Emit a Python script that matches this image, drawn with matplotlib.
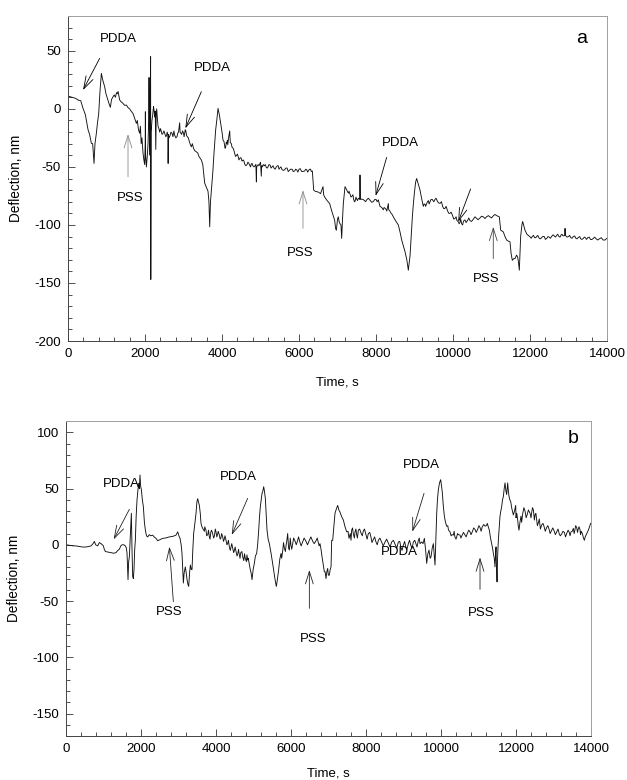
import matplotlib
matplotlib.use("Agg")
import matplotlib.pyplot as plt
from matplotlib.ticker import MultipleLocator

plt.rcParams['font.family'] = ['Liberation Sans', 'DejaVu Sans']
plt.rcParams['axes.unicode_minus'] = False

# ---------------- data: panel a (main trace) ----------------
a_time = [0, 100, 200, 260, 330, 390, 450, 520, 560, 606, 640, 675, 700, 736, 765, 797,
          830, 866, 900, 952, 985, 1022, 1060, 1100, 1130, 1169, 1200, 1230, 1260, 1281,
          1300, 1342, 1380, 1420, 1470, 1515, 1560, 1600, 1640, 1688, 1730, 1775, 1800,
          1830, 1861, 1880, 1900, 1920, 1948, 1970, 1991, 2005, 2009, 2015, 2035, 2060,
          2078, 2095, 2104, 2115, 2130, 2145, 2150, 2160, 2180, 2200, 2220, 2234, 2250,
          2265, 2280, 2290, 2303, 2320, 2338, 2360, 2381, 2420, 2468, 2520, 2560, 2597,
          2600, 2605, 2650, 2700, 2770, 2830, 2870, 2900, 2910, 2950, 3000, 3030, 3060,
          3100, 3150, 3203, 3260, 3333, 3400, 3463, 3500, 3550, 3600, 3636, 3660, 3680,
          3700, 3723, 3760, 3792, 3835, 3870, 3896, 3930, 3965, 4000, 4026, 4060, 4095,
          4120, 4139, 4170, 4199, 4215, 4242, 4290, 4329, 4380, 4420, 4459, 4520, 4550,
          4589, 4650, 4690, 4718, 4760, 4800, 4860, 4892, 4900, 4940, 4978, 5020, 5030,
          5070, 5100, 5150, 5195, 5250, 5300, 5350, 5411, 5460, 5500, 5560, 5628, 5690,
          5750, 5820, 5887, 5940, 6000, 6070, 6147, 6200, 6250, 6300, 6346, 6381, 6420,
          6494, 6560, 6623, 6640, 6667, 6730, 6796, 6850, 6926, 6950, 6970, 7000, 7021,
          7040, 7065, 7090, 7108, 7130, 7151, 7195, 7240, 7281, 7330, 7368, 7420, 7454,
          7500, 7541, 7575, 7584, 7595, 7627, 7700, 7757, 7850, 7930, 8000, 8060, 8103,
          8150, 8190, 8250, 8320, 8330, 8390, 8450, 8520, 8580, 8630, 8667, 8710, 8753,
          8800, 8840, 8860, 8883, 8910, 8944, 8970, 8996, 9030, 9056, 9100, 9143, 9190,
          9229, 9270, 9316, 9360, 9403, 9460, 9533, 9600, 9662, 9730, 9792, 9860, 9922,
          9990, 10052, 10100, 10138, 10180, 10225, 10270, 10311, 10380, 10441, 10530,
          10614, 10700, 10787, 10870, 10960, 11050, 11134, 11203, 11238, 11307, 11350,
          11394, 11440, 11480, 11510, 11541, 11580, 11610, 11650, 11679, 11700, 11723,
          11745, 11757, 11790, 11809, 11840, 11870, 11920, 11957, 12010, 12060, 12120,
          12173, 12240, 12300, 12370, 12433, 12500, 12560, 12630, 12693, 12750, 12800,
          12860, 12900, 12910, 12920, 13000, 13060, 13125, 13190, 13250, 13320, 13385,
          13440, 13500, 13570, 13645, 13720, 13800, 13900, 13991]
a_defl = [11, 10, 9, 7.6, 7, 0.4, -5, -18, -22, -29.7, -30, -47, -30, -21, -12, -4,
          15, 30.6, 25, 19, 13, 9, 5, 1.3, 8, 10.4, 12, 10, 14, 13,
          15, 7.6, 6, 5, 3, 3.3, 1, 0, -2, -4, -8, -12.5, -10,
          -18, -21, -15, -30, -25, -38, -44, -48, -30, -2.5, -40, -50, -40,
          -30, -10, 27, -20, -40, 45, -147, -20, -10, -5, 2, -1, -7,
          -2, -35, -5, 0, -8, -15, -17, -20, -19, -21, -22, -23, -22.6,
          -47, -22, -23, -21, -22.6, -24, -20, -12, -20, -22, -21, -21, -19,
          -24, -28, -32.7, -34, -37, -41, -44, -48, -64, -68, -71, -80, -101.6,
          -80, -70, -55, -38, -18, -8, 0.4, -5, -12.5, -20, -27, -30, -32.7,
          -30, -27, -25, -19, -29, -30, -34, -38.4, -40, -41, -42.7, -45, -44,
          -47.6, -48, -46.5, -48.5, -47.5, -49, -49, -63, -50, -48, -47.6, -58, -49,
          -48, -49, -50.5, -50, -48.5, -50, -51, -50, -49, -51, -52.5, -52.4, -51,
          -53, -52, -53.5, -52.5, -52, -54, -53.5, -52.5, -53, -52, -53.5, -70, -71,
          -71.6, -73, -67, -74, -76, -79, -81.6, -88, -96, -103, -104.6, -95, -93,
          -97, -99, -100, -111.6, -95, -81.5, -67, -70, -72.6, -74, -75.5, -78, -79.8,
          -78, -77, -78, -57, -78, -77.8, -79, -78.4, -79, -79.8, -78, -78.4, -84,
          -85, -87, -86, -81.6, -87, -90, -93, -97, -100, -107, -113, -118, -123,
          -130, -139, -133, -127, -112, -93, -82, -72.6, -63, -60, -65, -70, -78,
          -84, -82, -81.5, -79, -80, -78, -78, -80, -81.5, -84, -85.8, -88, -90,
          -92, -94.4, -96, -97.3, -98, -99, -97, -95.7, -96, -96.3, -95,
          -94.4, -94, -93, -93, -93, -92, -92, -93, -104.5, -106, -110,
          -113, -114, -114.5, -125, -130.5, -129, -129, -126, -127.6, -132, -139,
          -120, -110, -100, -97, -101, -104.6, -108, -109, -110.5, -110, -111,
          -110, -111.5, -111, -110, -111.6, -110.5, -110, -109.5, -109, -110, -109,
          -109.5, -109, -103, -109, -110, -111, -110, -111.5, -111, -112, -111.6,
          -111, -111, -112.5, -111.6, -112, -112, -113, -111.6]

# panel a: extra read-off points for the noisy stretches
a_time_noise = [2400, 2440, 2490, 2540, 2575, 2625, 2675, 2725, 2750, 2800, 2850, 2975,
                3015, 3045, 3080, 3125, 3180, 3230, 3290, 3370,
                4050, 4080, 4110, 4150, 4260, 4310, 4350, 4400, 4440, 4490, 4570, 4620,
                4670, 4740, 4780, 4830, 4880, 4960, 5000, 5050, 5125, 5175, 5220, 5275,
                5325, 5380, 5440, 5480, 5530, 5600, 5660, 5720, 5780, 5850, 5910, 5970,
                6030, 6100, 6175, 6225, 6275, 6320,
                7300, 7350, 7400, 7440, 7480, 7520, 7660, 7730, 7800, 7890, 7970, 8030,
                8210, 8280, 8360, 8420,
                9250, 9290, 9340, 9380, 9430, 9500, 9560, 9630, 9700, 9760, 9820, 9890,
                9950, 10020, 10080, 10160, 10200, 10250, 10290, 10340, 10410, 10480,
                10570, 10650, 10740, 10830, 10920, 11000, 11090, 11170,
                12030, 12090, 12150, 12200, 12270, 12330, 12400, 12470, 12530, 12600,
                12660, 12720, 12780, 12830, 12960, 13030, 13090, 13160, 13220, 13290,
                13350, 13410, 13470, 13540, 13610, 13680, 13760, 13850, 13950]
a_defl_noise = [-17, -22, -19, -24, -20, -25, -20, -24, -19, -25, -21, -19,
                -24, -18, -23, -25, -31, -30, -36, -38,
                -28, -34, -29, -31, -33, -36, -41, -39, -44, -42, -45, -49,
                -46, -50, -47, -50, -48, -49, -46, -50, -48, -51, -48, -51,
                -49, -52, -49, -52, -50, -53, -51, -54, -52, -54, -52, -54.5,
                -51.5, -54, -52, -54.5, -52, -54,
                -71, -76, -74, -80, -76, -79, -78, -80, -77, -80.5, -78, -80,
                -85, -88, -88, -91,
                -82, -84, -80, -82, -78, -80, -77, -81, -80, -86, -84, -90,
                -89, -95, -93, -99, -95, -100, -96, -98, -94, -97,
                -93, -95.5, -92.5, -94.5, -92, -94, -91, -92.5,
                -111.5, -109, -111, -109, -112, -110, -112.5, -110, -111.5, -108.5,
                -110.5, -108, -110.5, -108, -110.5, -109, -111.5, -109.5, -112, -110,
                -112.5, -110.5, -112.5, -110.5, -112.5, -110.5, -113, -111, -113]

# ---------------- data: panel b (main trace) ----------------
b_time = [0, 100, 200, 267, 350, 450, 533, 600, 667, 720, 756, 790, 845, 889, 933, 970,
          996, 1020, 1049, 1120, 1200, 1270, 1333, 1380, 1422, 1460, 1493, 1540, 1582,
          1610, 1627, 1653, 1670, 1689, 1710, 1742, 1760, 1778, 1795, 1813, 1830, 1849,
          1870, 1893, 1915, 1938, 1955, 1973, 1990, 2009, 2035, 2062, 2090, 2116, 2145,
          2178, 2220, 2260, 2311, 2350, 2400, 2444, 2500, 2578, 2650, 2700, 2756, 2850,
          2933, 2978, 3010, 3040, 3070, 3093, 3110, 3129, 3150, 3182, 3205, 3227, 3250,
          3271, 3295, 3316, 3340, 3360, 3380, 3404, 3440, 3467, 3490, 3511, 3535, 3556,
          3580, 3600, 3625, 3644, 3690, 3733, 3780, 3822, 3860, 3911, 3960, 4000, 4040,
          4089, 4130, 4178, 4220, 4267, 4310, 4356, 4400, 4444, 4490, 4533, 4580, 4622,
          4660, 4711, 4780, 4845, 4880, 4907, 4935, 4960, 4990, 5022, 5050, 5084, 5110,
          5138, 5160, 5182, 5205, 5227, 5250, 5271, 5290, 5316, 5340, 5360, 5390, 5422,
          5470, 5511, 5535, 5556, 5585, 5609, 5640, 5671, 5700, 5733, 5780, 5822, 5870,
          5911, 5935, 5956, 6000, 6044, 6110, 6178, 6240, 6311, 6400, 6489, 6580, 6667,
          6720, 6773, 6800, 6827, 6860, 6889, 6910, 6933, 6955, 6978, 6996, 7022, 7045,
          7067, 7085, 7111, 7140, 7173, 7210, 7245, 7275, 7307, 7350, 7396, 7440, 7485,
          7547, 7580, 7618, 7660, 7707, 7750, 7796, 7860, 7929, 8000, 8062, 8130, 8196,
          8260, 8329, 8420, 8507, 8600, 8685, 8780, 8863, 8930, 8996, 9060, 9129, 9200,
          9262, 9330, 9396, 9440, 9485, 9556, 9590, 9618, 9650, 9680, 9710, 9734, 9765,
          9796, 9820, 9840, 9862, 9885, 9905, 9929, 9960, 9991, 10015, 10036, 10060,
          10089, 10120, 10151, 10200, 10240, 10290, 10329, 10370, 10418, 10460, 10507,
          10570, 10640, 10700, 10774, 10840, 10907, 10980, 11040, 11100, 11174, 11210,
          11236, 11260, 11289, 11320, 11351, 11375, 11396, 11420, 11440, 11455, 11467,
          11480, 11494, 11510, 11529, 11550, 11573, 11595, 11618, 11640, 11663, 11685,
          11707, 11730, 11751, 11765, 11778, 11795, 11814, 11835, 11858, 11890, 11929,
          11960, 11991, 12020, 12045, 12062, 12080, 12105, 12133, 12180, 12240, 12300,
          12374, 12420, 12463, 12510, 12551, 12600, 12685, 12750, 12818, 12880, 12951,
          13020, 13085, 13150, 13218, 13290, 13351, 13420, 13467, 13500, 13529, 13570,
          13618, 13660, 13707, 13740, 13769, 13800, 13823, 13845, 13867, 13900, 13929,
          13960, 13991]
b_defl = [0, -0.5, -1, -1, -1.5, -2, -2, -1.5, -1, 1, 3, 0, -1, 2, 1, 0,
          -1, -4, -6, -6.5, -7, -7.5, -7, -5, -4, -1, 0, 0, -1,
          -3, -7.7, -31, -15, -10.7, 5, 28, -5, -28, -30, -22, -5, 4,
          25, 39.8, 48, 54.6, 50, 62, 52, 49, 40, 34, 20, 13, 8,
          7, 9, 8, 8.6, 7, 5.7, 3.6, 4.5, 5.7, 6, 6.5, 7, 7.5,
          8.6, 11.5, 8, 5.7, 0, -7.7, -20, -34, -25, -19.6, -25, -31, -35,
          -37, -25, -18, -22, -22, -5, 10, 20, 28, 38, 41, 38, 35,
          28, 19, 16, 14.6, 12, 13, 9, 7, 11, 10, 8, 11.5, 9,
          8.6, 6, 7, 5, 4, 1, -1.9, -2, -3, -5, -6, -8, -9,
          -7, -10.7, -12, -13.6, -16, -21, -25, -31, -22, -16.5, -10, -7.7, 0,
          13, 25, 34, 40, 45.6, 48, 51.6, 48, 41, 25, 13, 5, 1,
          -8, -16.5, -22, -27, -33, -37, -30, -22, -13, -7.7, -5, -3, 0,
          10, -3, -4.7, -1, 1, 3, 4, 2, 2.5, 3, 4, 3, 3.6,
          3, 1, -4, -10.7, -18, -24, -24, -30, -24, -21, -27, -27, -22,
          -19.6, 4, 4, 15, 28, 32, 35, 31, 29, 25, 22, 16, 11.5,
          5.7, 10, 13, 10, 11.5, 9, 13, 11, 12.4, 9, 10, 7, 4.8,
          3, 4, 2, 2.5, 1, 2.5, 0, 2.5, -2, -0.3, -2, 1, -1,
          2.5, 1, 4, 1, 2.5, 5.7, -5, -16.5, -8, -4.7, -12, -10.7, -3,
          1, -10, -18, 5, 28, 40, 49, 55, 57.9, 52, 46, 35,
          25.5, 20, 16.5, 13, 11.5, 9, 8.6, 7, 7, 9, 8.6,
          9, 8.6, 10, 11.5, 12, 13.6, 14, 15.4, 16, 16.6, 17,
          19, 16, 13, 6, 1, -3, -7.7, -12, -19.6, -8, -1.9,
          -20, -33, -10, 4, 15, 25.5, 30, 34, 40, 43, 50,
          55, 48, 44.7, 50, 55, 48, 43, 40, 38.5, 32, 26.5,
          30, 35, 28, 22, 16, 13, 20, 25.5, 28, 30, 27,
          28, 29, 31, 27, 22, 20, 17.6, 16, 15.4, 14, 13,
          12, 11.5, 10, 9.5, 11, 10, 11, 11.5, 12, 14.6, 13,
          15.4, 14, 13.6, 12, 10, 6, 4, 7, 8.6, 11, 13,
          16, 19]

# panel b: extra read-off points for the noisy stretches
b_time_noise = [3700, 3750, 3800, 3840, 3880, 3935, 3980, 4020, 4060, 4110, 4150, 4200,
                4240, 4290, 4330, 4380, 4420, 4470, 4510, 4560, 4600, 4640, 4690, 4740,
                4760, 4810, 4825, 4860,
                5750, 5800, 5850, 5890, 5980, 6020, 6070, 6140, 6200, 6270, 6350, 6440,
                6530, 6620, 6700, 6750,
                7520, 7600, 7640, 7690, 7730, 7770, 7830, 7900, 7960, 8030, 8100, 8160,
                8230, 8300, 8370, 8460, 8550, 8640, 8730, 8820, 8900, 8960, 9030, 9090,
                9160, 9230, 9300, 9360, 9420, 9520,
                10180, 10270, 10350, 10400, 10440, 10530, 10600, 10670, 10740, 10800,
                10870, 10940, 11010, 11070, 11140,
                12000, 12150, 12210, 12270, 12330, 12400, 12440, 12490, 12530, 12570,
                12620, 12650, 12720, 12780, 12850, 12910, 12980, 13050, 13120, 13180,
                13250, 13320, 13390, 13440, 13550, 13590, 13640, 13680, 13720]
b_defl_noise = [16, 8, 13, 5, 13, 6, 14, 7, 12, 5, 10, 3,
                8, 0, 4, -5, 1, -7, -2, -10, -4, -12, -6, -14,
                -8, -15, -9, -12,
                -12, 2, -6, 4, 6, -4, 6, 0, 7, -1, 6, 0,
                7, 1, 6, -1,
                12, 4, 15, 6, 14, 6, 14, 8, 14, 5, 11, 2,
                7, 0, 6, -1, 5, -2, 4, -3, 3, -5, 3, -4,
                4, -3, 4, -2, 6, 1,
                17, 8, 12, 5, 10, 6, 11, 7, 13, 9,
                15, 11, 17, 12, 18,
                24, 20, 33, 24, 31, 24, 33, 22, 28, 17,
                23, 14, 19, 12, 17, 10, 15, 9, 14, 8,
                12, 7, 13, 8, 10, 17, 11, 16, 9]

# ---------------- annotations ----------------
a_labels = ["PDDA", "PSS", "PDDA", "PSS", "PDDA", "PSS"]
a_label_xy = [(1316, 60), (1602, -77), (3740, 35.4), (6042, -124.6), (8622, -29), (10856, -147)]
a_arrows = [((822, 43.5), (390, 16.2), 'k'),
            ((1558, -58.5), (1558, -21.7), '#8a8a8a'),
            ((3463, 14.8), (3047, -16.8), 'k'),
            ((6103, -103), (6103, -70), '#8a8a8a'),
            ((8276, -41.8), (7990, -75), 'k'),
            ((10457, -69), (10136, -97.3), 'k'),
            ((11046, -129), (11046, -101.6), '#444444')]

b_labels = ["PDDA", "PSS", "PDDA", "PSS", "PDDA", "PDDA", "PSS"]
b_label_xy = [(1467, 53.7), (2738, -59.5), (4604, 60.5), (6596, -84), (9467, 70.9),
              (8880, -6.2), (11058, -61)]
b_arrows = [((1689, 31.5), (1271, 4.8), '#222222'),
            ((2862, -50.6), (2756, -1.7), '#222222'),
            ((4844, 41.3), (4418, 8.7), '#222222'),
            ((6489, -56.5), (6489, -22.4), '#222222'),
            ((9547, 45.7), (9235, 11.6), '#222222'),
            ((11040, -39.6), (11040, -11.2), '#222222')]


def merged(t_main, v_main, t_extra, v_extra):
    pts = sorted(zip(t_main + t_extra, v_main + v_extra), key=lambda p: p[0])
    return [p[0] for p in pts], [p[1] for p in pts]


fig = plt.figure(figsize=(6.27, 7.8), dpi=100)
ax1 = fig.add_axes([0.1085, 0.5628, 0.8596, 0.4167])
ax2 = fig.add_axes([0.1053, 0.0564, 0.8373, 0.4038])


def style(ax, ylim, ymajor):
    ax.set_xlim(0, 14000)
    ax.set_ylim(*ylim)
    ax.xaxis.set_major_locator(MultipleLocator(2000))
    ax.xaxis.set_minor_locator(MultipleLocator(400))
    ax.yaxis.set_major_locator(MultipleLocator(ymajor))
    ax.yaxis.set_minor_locator(MultipleLocator(10))
    ax.tick_params(which='both', direction='in', top=False, right=False,
                   labelsize=9.5, color='#333333', width=0.6)
    ax.tick_params(which='major', length=5, pad=5)
    ax.tick_params(which='minor', length=3)
    for s in ['left', 'bottom']:
        ax.spines[s].set_color('#444444')
        ax.spines[s].set_linewidth(0.7)
    for s in ['top', 'right']:
        ax.spines[s].set_color('#a0a0a0')
        ax.spines[s].set_linewidth(0.7)
    ax.set_xlabel("Time, s", fontsize=9.5)
    ax.set_ylabel("Deflection, nm", fontsize=9.8, labelpad=8)


style(ax1, (-200, 80), 50)
style(ax2, (-170, 110), 50)
ax1.xaxis.labelpad = 12
ax2.xaxis.labelpad = 9

ta, va = merged(a_time, a_defl, a_time_noise, a_defl_noise)
tb, vb = merged(b_time, b_defl, b_time_noise, b_defl_noise)
ax1.plot(ta, va, color='#111111', lw=0.65)
ax2.plot(tb, vb, color='#111111', lw=0.65)

for ax, labels, lxy, arrows in [(ax1, a_labels, a_label_xy, a_arrows),
                                (ax2, b_labels, b_label_xy, b_arrows)]:
    for lab, (x, y) in zip(labels, lxy):
        ax.text(x, y, lab, fontsize=9.5, ha='center', va='center')
    for start, tip, col in arrows:
        ax.annotate('', xy=tip, xytext=start,
                    arrowprops=dict(arrowstyle='->,head_length=0.9,head_width=0.28',
                                    lw=0.6, color=col, shrinkA=0, shrinkB=0))

ax1.text(13340, 60.8, "a", fontsize=14, ha='center', va='center')
ax2.text(13520, 94.9, "b", fontsize=14, ha='center', va='center')

fig.savefig("out.png", dpi=100)
